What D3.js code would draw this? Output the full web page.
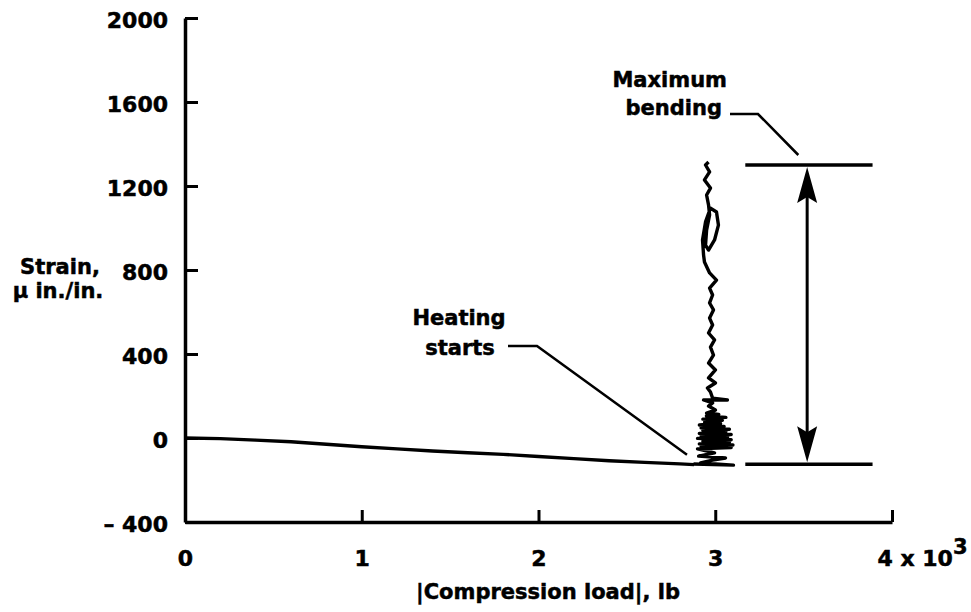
<!DOCTYPE html>
<html>
<head>
<meta charset="utf-8">
<script src="https://cdn.jsdelivr.net/npm/d3@7"></script>
<style>
  body { margin: 0; background: #fff; }
  text { font-family: "DejaVu Sans", sans-serif; font-weight: bold; fill: #000; stroke: #000; stroke-width: 0.5px; }
</style>
</head>
<body>
<div class="myChart"></div>
<script>
var svgWidth = 971;
var svgHeight = 612;

// x ticks (thousands of lb) and y ticks (micro in./in.)
var xTicks = [0, 1, 2, 3, 4];
var yTicks = [-400, 0, 400, 800, 1200, 1600, 2000];

// loading before heating
var loadA = [0, 0.2, 0.4, 0.6, 0.8, 1.0, 1.2, 1.4, 1.6, 1.8, 2.0, 2.2, 2.4, 2.6, 2.8, 2.88];
var strainA = [0, -3, -10, -18, -30, -42, -52, -62, -70, -78, -88, -98, -108, -116, -123, -127];

// after heating starts (load held near 3000 lb)
var loadB = [2.877, 3.103, 2.917, 2.985, 3.058, 2.906, 2.996, 2.900,
  3.09, 2.92, 3.10, 2.91, 3.08, 2.93, 3.09, 2.90, 3.07, 2.92, 3.09, 2.91, 3.06, 2.93, 3.08, 2.92,
  3.05, 2.91, 3.03, 2.94, 3.04, 2.93, 3.06, 2.95, 3.02, 2.951,
  3.001, 2.962, 2.985, 2.934, 3.069, 2.985, 2.973, 2.956, 3.001,
  2.962, 3.001, 2.962, 2.990, 2.973, 2.996, 2.962, 2.985, 2.968, 2.990, 2.968, 2.985, 2.968, 3.007, 2.968,
  2.939, 2.934, 2.928, 2.945, 2.973, 3.007, 3.018, 2.996, 2.962, 2.945, 2.951, 2.968, 2.962, 2.951, 2.973,
  2.939, 2.968, 2.945, 2.962];
var strainB = [-124, -129, -119, -105, -95, -86, -71, -52,
  -45, -40, -33, -28, -20, -15, -8, -2, 5, 10, 17, 22, 30, 36, 42, 48,
  55, 62, 70, 76, 84, 90, 98, 105, 112, 119,
  133, 152, 167, 181, 181, 190, 219, 238, 262,
  286, 324, 357, 395, 433, 467, 500, 538, 571, 610, 643, 681, 714, 752, 786,
  838, 871, 943, 1029, 1095, 1076, 1014, 943, 895, 919, 990, 1062, 1110, 1157, 1190,
  1229, 1267, 1300, 1314];

// maximum bending band
var bendTop = 1300;
var bendBottom = -125;
var bendFrom = 3.17;
var bendTo = 3.89;
var arrowLoad = 3.52;

var svg = d3.select(".myChart")
  .append("svg")
  .attr("width", svgWidth)
  .attr("height", svgHeight);

var x = d3.scaleLinear().domain([0, 4]).range([185, 892]);
var y = d3.scaleLinear().domain([-400, 2000]).range([522, 18]);

// axes
var bottomAxis = d3.axisBottom(x)
  .tickValues(xTicks)
  .tickSizeInner(-12)
  .tickSizeOuter(0)
  .tickPadding(28)
  .tickFormat(d3.format("d"));

var leftAxis = d3.axisLeft(y)
  .tickValues(yTicks)
  .tickSizeInner(-13)
  .tickSizeOuter(0)
  .tickPadding(17)
  .tickFormat(function(d) { return d < 0 ? "\u2013 " + Math.abs(d) : d; });

var gx = svg.append("g")
  .attr("transform", "translate(0," + y(-400) + ")")
  .call(bottomAxis);

var gy = svg.append("g")
  .attr("transform", "translate(" + x(0) + ",0)")
  .call(leftAxis);

[gx, gy].forEach(function(g) {
  g.select(".domain").attr("stroke", "#000").attr("stroke-width", 3.5);
  g.selectAll(".tick line").attr("stroke", "#000").attr("stroke-width", 3);
  g.selectAll(".tick text").style("font-size", "22px").attr("fill", "#000");
});

gy.selectAll(".tick text").attr("dy", "0.45em");
gx.selectAll(".tick text").attr("dy", "0.71em");

// last x label carries the multiplier
gx.selectAll(".tick text")
  .filter(function(d) { return d === 4; })
  .attr("text-anchor", "start")
  .attr("x", -15)
  .text("4 x 10")
  .append("tspan")
  .attr("dy", "-0.55em")
  .style("font-size", "21px")
  .text("3");

// axis titles
svg.append("text")
  .attr("x", 548)
  .attr("y", 599)
  .attr("text-anchor", "middle")
  .style("font-size", "21px")
  .text("|Compression load|, lb");

svg.append("text")
  .attr("x", 60)
  .attr("y", 274)
  .attr("text-anchor", "middle")
  .style("font-size", "21px")
  .text("Strain,");

svg.append("text")
  .attr("x", 58)
  .attr("y", 298)
  .attr("text-anchor", "middle")
  .style("font-size", "21px")
  .text("\u03bc in./in.");

// data curves
var line = d3.line()
  .x(function(d) { return x(d[0]); })
  .y(function(d) { return y(d[1]); });

svg.append("path")
  .datum(d3.zip(loadA, strainA))
  .attr("fill", "none")
  .attr("stroke", "#000")
  .attr("stroke-width", 3.4)
  .attr("stroke-linejoin", "round")
  .attr("d", line);

svg.append("path")
  .datum(d3.zip(loadB, strainB))
  .attr("fill", "none")
  .attr("stroke", "#000")
  .attr("stroke-width", 3.4)
  .attr("stroke-linejoin", "round")
  .attr("d", line);

// maximum bending markers
[bendTop, bendBottom].forEach(function(v) {
  svg.append("line")
    .attr("x1", x(bendFrom)).attr("x2", x(bendTo))
    .attr("y1", y(v)).attr("y2", y(v))
    .attr("stroke", "#000")
    .attr("stroke-width", 3.5);
});

var ax = x(arrowLoad);
svg.append("line")
  .attr("x1", ax).attr("x2", ax)
  .attr("y1", y(bendTop) + 20).attr("y2", y(bendBottom) - 20)
  .attr("stroke", "#000")
  .attr("stroke-width", 3);

svg.append("path")
  .attr("d", "M" + ax + "," + (y(bendTop) + 2) + "L" + (ax - 10) + "," + (y(bendTop) + 38) +
    "L" + ax + "," + (y(bendTop) + 32) + "L" + (ax + 10) + "," + (y(bendTop) + 38) + "Z")
  .attr("fill", "#000");

svg.append("path")
  .attr("d", "M" + ax + "," + (y(bendBottom) - 2) + "L" + (ax - 10) + "," + (y(bendBottom) - 38) +
    "L" + ax + "," + (y(bendBottom) - 32) + "L" + (ax + 10) + "," + (y(bendBottom) - 38) + "Z")
  .attr("fill", "#000");

// annotations
svg.append("text").attr("x", 459).attr("y", 325).attr("text-anchor", "middle")
  .style("font-size", "21px").text("Heating");
svg.append("text").attr("x", 460).attr("y", 355).attr("text-anchor", "middle")
  .style("font-size", "21px").text("starts");
svg.append("path")
  .attr("d", "M508,346L537,346L" + x(2.84) + "," + y(-80))
  .attr("fill", "none")
  .attr("stroke", "#000")
  .attr("stroke-width", 2.5);

svg.append("text").attr("x", 727).attr("y", 87).attr("text-anchor", "end")
  .style("font-size", "21px").text("Maximum");
svg.append("text").attr("x", 722).attr("y", 115).attr("text-anchor", "end")
  .style("font-size", "21px").text("bending");
svg.append("path")
  .attr("d", "M730,114L758,114L" + x(3.47) + "," + (y(bendTop) - 10))
  .attr("fill", "none")
  .attr("stroke", "#000")
  .attr("stroke-width", 2.5);
</script>
</body>
</html>
